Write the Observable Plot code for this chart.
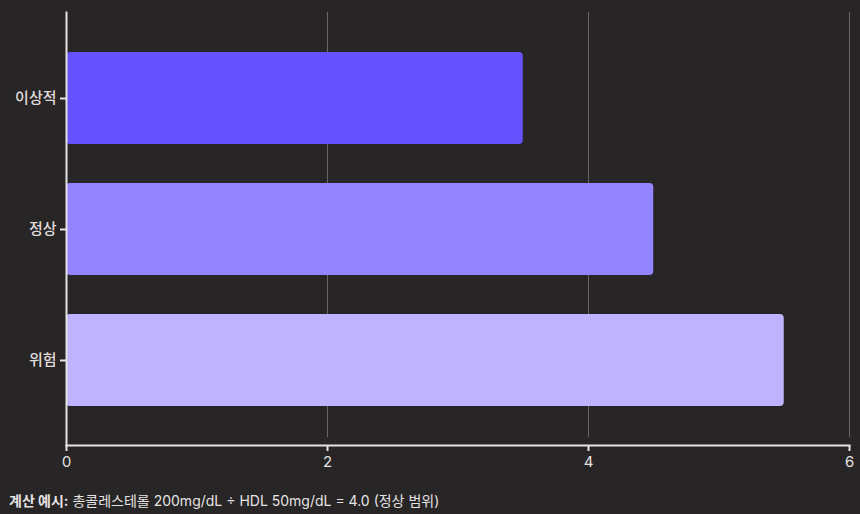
<!DOCTYPE html>
<html><head><meta charset="utf-8">
<script src="https://cdn.jsdelivr.net/npm/d3@7"></script>
<script src="https://cdn.jsdelivr.net/npm/@observablehq/plot@0.6"></script>
<style>
html,body{margin:0;padding:0;background:#272525;}
body{width:860px;height:514px;overflow:hidden;font-family:Inter,"Noto Sans CJK KR",sans-serif;color:#e6e3e3;}
#cap{position:absolute;left:9px;top:490px;font-size:14px;font-family:Inter,"Noto Sans CJK KR",sans-serif;color:#e6e3e3;}
#cap b{font-weight:700;}
</style></head><body>
<div id="chart"></div>
<div id="cap"><b>계산 예시:</b> 총콜레스테롤 200mg/dL ÷ HDL 50mg/dL = 4.0 (정상 범위)</div>
<script>
const categories = ["이상적", "정상", "위험"];
const values = [3.5, 4.5, 5.5];
const colors = ["#6652ff", "#9584ff", "#bfb3ff"];
const xTicks = [0, 2, 4, 6];

const data = categories.map((c, i) => ({cat: c, v: values[i], color: colors[i]}));

const chart = Plot.plot({
  width: 860,
  height: 480,
  marginLeft: 66,
  marginRight: 11,
  marginTop: 12,
  marginBottom: 35,
  style: {background: "#272525", color: "#e6e3e3", fontSize: "14px", fontFamily: "Inter, 'Noto Sans CJK KR', sans-serif"},
  x: {domain: [0, 6], ticks: xTicks, label: null, grid: false},
  y: {domain: categories, label: null, padding: 0.3},
  marks: [
    Plot.gridX(xTicks, {stroke: "#6a6666", strokeOpacity: 1, strokeWidth: 1, insetBottom: 8}),
    Plot.barX(data, {x: "v", y: "cat", fill: "color", rx: 4}),
    Plot.axisX({ticks: xTicks, tickFormat: "d", tickSize: 6, tickPadding: 5, fontSize: 15, stroke: "#e6e3e3", strokeWidth: 2, color: "#e6e3e3"}),
    Plot.frame({anchor: "bottom", stroke: "#e6e3e3", strokeWidth: 2}),
    Plot.axisY({tickSize: 6, tickPadding: 4, fontSize: 15, fontWeight: 500, color: "#e0dcdc", stroke: "#e6e3e3", strokeWidth: 2}),
    Plot.frame({anchor: "left", stroke: "#e6e3e3", strokeWidth: 2})
  ]
});
document.getElementById("chart").appendChild(chart);
</script>
</body></html>
